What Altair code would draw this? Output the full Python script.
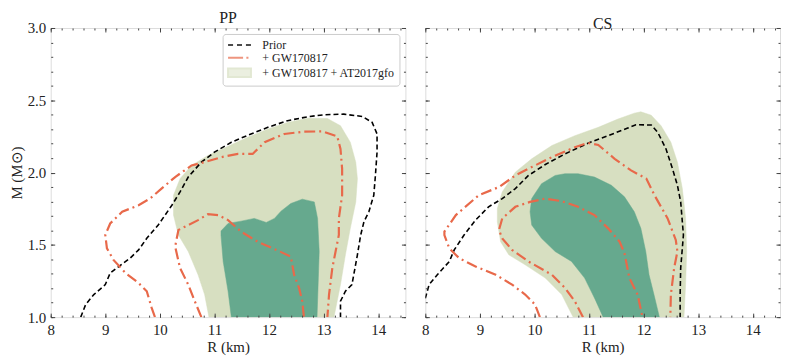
import altair as alt
import pandas as pd

# ---------------- data ----------------
# PP panel
pp_prior_r = [8.55, 8.64, 8.79, 9.0, 9.09, 9.245, 9.46, 9.61, 9.76, 9.97, 10.22, 10.37, 10.52, 10.76, 11.0, 11.31, 11.67, 11.98, 12.34, 12.71, 13.01, 13.37, 13.71, 13.89, 13.98, 13.98, 13.95, 13.92, 13.83, 13.74, 13.68, 13.62, 13.52, 13.40, 13.31, 13.31]
pp_prior_m = [1.0, 1.087, 1.156, 1.225, 1.305, 1.35, 1.41, 1.465, 1.545, 1.637, 1.774, 1.866, 1.969, 2.072, 2.141, 2.21, 2.267, 2.313, 2.359, 2.386, 2.40, 2.404, 2.388, 2.347, 2.267, 2.141, 1.98, 1.843, 1.729, 1.66, 1.568, 1.431, 1.225, 1.179, 1.11, 1.0]
pp_gw90_r = [9.91, 9.85, 9.76, 9.61, 9.37, 9.15, 9.03, 9.0, 9.09, 9.31, 9.61, 9.82, 10.03, 10.28, 10.58, 10.82, 11.13, 11.43, 11.70, 11.92, 12.28, 12.64, 12.98, 13.25, 13.31, 13.34, 13.34, 13.28, 13.28, 13.22, 13.16, 13.10, 13.07]
pp_gw90_m = [1.0, 1.064, 1.179, 1.236, 1.305, 1.396, 1.476, 1.568, 1.648, 1.729, 1.774, 1.82, 1.889, 1.969, 2.049, 2.072, 2.107, 2.129, 2.129, 2.21, 2.267, 2.283, 2.285, 2.251, 2.164, 2.026, 1.843, 1.683, 1.568, 1.454, 1.339, 1.156, 1.0]
pp_gw50_r = [10.76, 10.64, 10.52, 10.37, 10.28, 10.34, 10.52, 10.70, 10.88, 11.07, 11.25, 11.49, 11.79, 12.07, 12.40, 12.46, 12.55, 12.61, 12.64]
pp_gw50_m = [1.0, 1.11, 1.225, 1.339, 1.488, 1.603, 1.637, 1.671, 1.712, 1.706, 1.671, 1.591, 1.522, 1.476, 1.419, 1.293, 1.202, 1.11, 1.0]
pp_kn90_r = [10.90, 10.82, 10.70, 10.52, 10.34, 10.25, 10.25, 10.37, 10.58, 10.88, 11.25, 11.61, 11.98, 12.34, 12.71, 13.07, 13.31, 13.49, 13.59, 13.62, 13.59, 13.49, 13.40, 13.31, 13.19]
pp_kn90_m = [1.0, 1.156, 1.293, 1.454, 1.568, 1.706, 1.843, 1.958, 2.049, 2.118, 2.182, 2.244, 2.301, 2.347, 2.376, 2.374, 2.324, 2.21, 2.072, 1.958, 1.797, 1.614, 1.431, 1.225, 1.0]
pp_kn50_r = [11.31, 11.25, 11.16, 11.12, 11.12, 11.25, 11.49, 11.73, 11.95, 12.10, 12.22, 12.40, 12.61, 12.83, 12.89, 12.92, 12.90, 12.88]
pp_kn50_m = [1.0, 1.179, 1.385, 1.568, 1.596, 1.648, 1.664, 1.683, 1.655, 1.683, 1.733, 1.786, 1.816, 1.797, 1.683, 1.454, 1.225, 1.0]

# CS panel
cs_prior_r = [8.0, 8.07, 8.22, 8.44, 8.53, 8.71, 8.92, 9.16, 9.41, 9.65, 9.89, 10.20, 10.56, 10.98, 11.35, 11.71, 11.86, 12.14, 12.26, 12.41, 12.53, 12.62, 12.68, 12.73, 12.68, 12.67, 12.67]
cs_prior_m = [1.13, 1.225, 1.293, 1.385, 1.465, 1.568, 1.671, 1.763, 1.82, 1.889, 1.98, 2.056, 2.129, 2.203, 2.255, 2.308, 2.331, 2.329, 2.278, 2.164, 2.026, 1.912, 1.797, 1.568, 1.339, 1.156, 1.0]
cs_gw90_r = [10.10, 10.01, 9.83, 9.59, 9.29, 8.92, 8.62, 8.44, 8.35, 8.35, 8.56, 8.98, 9.35, 9.65, 9.95, 10.32, 10.74, 10.98, 11.17, 11.47, 11.77, 12.05, 12.20, 12.44, 12.59, 12.62, 12.56, 12.50, 12.49]
cs_gw90_m = [1.0, 1.087, 1.156, 1.225, 1.293, 1.35, 1.408, 1.476, 1.568, 1.591, 1.706, 1.843, 1.90, 1.98, 2.038, 2.107, 2.175, 2.205, 2.191, 2.095, 2.015, 1.958, 1.843, 1.683, 1.534, 1.454, 1.339, 1.156, 1.0]
cs_gw50_r = [10.89, 10.74, 10.56, 10.32, 9.89, 9.59, 9.41, 9.35, 9.41, 9.65, 9.92, 10.20, 10.50, 10.80, 11.10, 11.35, 11.56, 11.65, 11.74, 11.89, 11.98]
cs_gw50_m = [1.0, 1.11, 1.202, 1.293, 1.385, 1.465, 1.545, 1.603, 1.683, 1.763, 1.797, 1.82, 1.802, 1.763, 1.706, 1.614, 1.522, 1.442, 1.27, 1.156, 1.0]
cs_kn90_r = [10.71, 10.50, 10.20, 9.83, 9.53, 9.38, 9.32, 9.32, 9.41, 9.65, 9.95, 10.32, 10.74, 11.17, 11.53, 11.83, 11.95, 12.14, 12.32, 12.50, 12.62, 12.71, 12.77, 12.79, 12.77, 12.74]
cs_kn90_m = [1.0, 1.156, 1.27, 1.362, 1.431, 1.522, 1.66, 1.751, 1.866, 2.003, 2.095, 2.187, 2.255, 2.313, 2.37, 2.411, 2.42, 2.397, 2.324, 2.21, 2.072, 1.889, 1.683, 1.454, 1.225, 1.0]
cs_kn50_r = [11.26, 11.10, 10.92, 10.68, 10.38, 10.13, 9.95, 9.92, 9.95, 10.13, 10.38, 10.56, 10.80, 11.10, 11.41, 11.65, 11.83, 11.95, 12.04, 12.10, 12.19, 12.29]
cs_kn50_m = [1.0, 1.133, 1.27, 1.385, 1.454, 1.545, 1.637, 1.729, 1.82, 1.923, 1.98, 1.992, 1.992, 1.969, 1.912, 1.832, 1.729, 1.614, 1.454, 1.293, 1.156, 1.0]

panel_titles = ["PP", "CS"]
legend_labels = ["Prior", "+ GW170817", "+ GW170817 + AT2017gfo"]
x_major = [8, 9, 10, 11, 12, 13, 14]
y_major = [1.0, 1.5, 2.0, 2.5, 3.0]
x_minor = [round(8 + 0.2 * k, 2) for k in range(33)]
y_minor = [round(1 + 0.1 * k, 2) for k in range(21)]

# ---------------- styles ----------------
C_LIGHT = "#d7dfc1"
C_DARK = "#66a98e"
C_ORANGE = "#e8694a"
C_BLACK = "#000000"
C_FRAME = "#444444"
C_TEXT = "#222222"
FONT = "Liberation Serif"

xs = alt.Scale(domain=[8, 14.5], nice=False, zero=False)
ys = alt.Scale(domain=[1.0, 3.0], nice=False, zero=False)


def df(r, m):
    return pd.DataFrame({"R": r, "M": m, "i": list(range(len(r)))})


def ax(orient, values, size, labels, title=None, fmt=None):
    kw = dict(orient=orient, values=values, tickSize=size, offset=-size,
              domain=False, grid=False, labels=labels, tickColor=C_FRAME,
              tickWidth=1, zindex=3, labelFlush=False, labelPadding=5,
              labelFont=FONT, labelFontSize=15, labelColor=C_TEXT,
              titleFont=FONT, titleFontSize=15, titleFontWeight="normal",
              titleColor=C_TEXT)
    if orient in ("top", "right"):
        kw["minExtent"] = 0
        kw["maxExtent"] = 0
    if fmt:
        kw["format"] = fmt
    if title:
        kw["title"] = title
        kw["titlePadding"] = 3
    return alt.Axis(**kw)


def enc(xaxis, yaxis, title_x=None, title_y=None):
    return dict(
        x=alt.X("R:Q", scale=xs, axis=xaxis, title=title_x),
        y=alt.Y("M:Q", scale=ys, axis=yaxis, title=title_y),
        order="i:Q",
    )


def panel(title, prior, gw90, gw50, kn90, kn50, left, legend):
    layers = []
    ytitle = "M (M⊙)" if left else None
    layers.append(
        alt.Chart(df(*kn90)).mark_line(fill=C_LIGHT, stroke=C_LIGHT, strokeWidth=0.5, clip=True).encode(
            **enc(ax("bottom", x_major, 4, True, "R (km)", "d"),
                  ax("left", y_major, 4, left, ytitle, ".1f"),
                  "R (km)", ytitle)
        )
    )
    layers.append(
        alt.Chart(df(*kn50)).mark_line(fill=C_DARK, stroke=C_DARK, strokeWidth=0.5, clip=True).encode(
            **enc(ax("bottom", x_minor, 2, False), ax("left", y_minor, 2, False))
        )
    )
    layers.append(
        alt.Chart(df(*prior)).mark_line(color=C_BLACK, strokeWidth=1.6, strokeDash=[5, 3], clip=True).encode(
            **enc(ax("top", x_major, 4, False), ax("right", y_major, 4, False))
        )
    )
    layers.append(
        alt.Chart(df(*gw90)).mark_line(color=C_ORANGE, strokeWidth=2.2, strokeDash=[11, 4, 2, 4], clip=True).encode(
            **enc(ax("top", x_minor, 2, False), ax("right", y_minor, 2, False))
        )
    )
    layers.append(
        alt.Chart(df(*gw50)).mark_line(color=C_ORANGE, strokeWidth=2.2, strokeDash=[11, 4, 2, 4], clip=True).encode(
            **enc(None, None)
        )
    )
    if legend:
        # symbols are 23 px wide on a 12 px symbol box (1 unit = 6 px)
        dash = "M-1.92,0H-1.08M-0.42,0H0.42M1.08,0H1.92"
        dashdot = "M-1.92,0H0.6M1.15,0H1.5"
        rect = "M-1.92,-0.72H1.92V0.72H-1.92Z"
        leg = alt.Legend(
            title=None, orient="top-right", offset=6, padding=4, fillColor="white",
            strokeColor="#cccccc", cornerRadius=3, labelFont=FONT, labelFontSize=12,
            labelColor=C_TEXT, symbolSize=144, symbolStrokeWidth=2, rowPadding=0,
            symbolOffset=6, labelOffset=16, symbolLimit=10,
        )
        layers.append(
            alt.Chart(pd.DataFrame({"label": legend_labels}))
            .mark_point()
            .transform_filter("false")
            .encode(
                shape=alt.Shape("label:N", scale=alt.Scale(domain=legend_labels, range=[dash, dashdot, rect]), legend=leg),
                fill=alt.Fill("label:N", scale=alt.Scale(domain=legend_labels, range=["transparent", "transparent", C_LIGHT]), legend=leg),
                stroke=alt.Stroke("label:N", scale=alt.Scale(domain=legend_labels, range=[C_BLACK, C_ORANGE, C_LIGHT]), legend=leg),
            )
        )
    return (
        alt.layer(*layers)
        .resolve_axis(x="independent", y="independent")
        .properties(
            width=357, height=291,
            title=alt.Title(title, font=FONT, fontSize=16, fontWeight="normal", color=C_TEXT, offset=-5),
        )
    )


left_chart = panel(panel_titles[0], (pp_prior_r, pp_prior_m), (pp_gw90_r, pp_gw90_m),
                   (pp_gw50_r, pp_gw50_m), (pp_kn90_r, pp_kn90_m), (pp_kn50_r, pp_kn50_m), True, True)
right_chart = panel(panel_titles[1], (cs_prior_r, cs_prior_m), (cs_gw90_r, cs_gw90_m),
                    (cs_gw50_r, cs_gw50_m), (cs_kn90_r, cs_kn90_m), (cs_kn50_r, cs_kn50_m), False, False)

chart = (
    alt.hconcat(left_chart, right_chart, spacing=14)
    .resolve_legend(shape="independent", fill="independent", stroke="independent")
    .configure_view(stroke=C_FRAME, strokeWidth=1)
    .configure(background="white", padding=0)
)

chart.save("out.html", embed_options={"renderer": "svg", "actions": False})
